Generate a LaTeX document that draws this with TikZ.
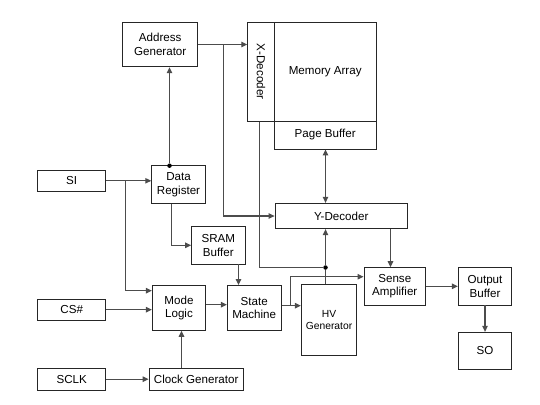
\documentclass[tikz,border=0pt]{standalone}
\usepackage{fontspec}
\setmainfont{Liberation Sans}
\usetikzlibrary{arrows.meta}
\begin{document}
\begin{tikzpicture}[x=1pt,y=-1pt,
  box/.style={draw=black!85,line width=0.9pt,inner sep=0pt,align=center,font=\fontsize{11.6}{13.5}\selectfont},
  conn/.style={draw=black!70,line width=1.1pt},
  arr/.style={conn,-{Triangle[length=6pt,width=5.5pt]}},
  darr/.style={conn,{Triangle[length=6pt,width=5.5pt]}-{Triangle[length=6pt,width=5.5pt]}},
  dot/.style={circle,fill=black,inner sep=0pt,minimum size=4.5pt}]
\useasboundingbox (0,0) rectangle (540,404);
\node[box,minimum width=75pt,minimum height=44.5pt] (addr) at (160.2,44.5) {Address\\Generator};
\node[box,minimum width=26.6pt,minimum height=98.7pt] (xdec) at (261,71.7) {};
\node[font=\fontsize{11.6}{13.5}\selectfont,rotate=-90] at (xdec) {X-Decoder};
\node[box,minimum width=102pt,minimum height=98.7pt] (mem) at (325.2,71.7) {Memory Array};
\node[box,minimum width=102pt,minimum height=28pt] (page) at (325.2,135) {Page Buffer};
\node[box,minimum width=68pt,minimum height=21.7pt] (si) at (71.7,180.8) {SI};
\node[box,minimum width=53.6pt,minimum height=37.6pt] (datareg) at (178.5,184.5) {Data\\Register};
\node[box,minimum width=132.3pt,minimum height=25.4pt] (ydec) at (341.2,216) {Y-Decoder};
\node[box,minimum width=53.3pt,minimum height=37.3pt] (sram) at (218.3,245.3) {SRAM\\Buffer};
\node[box,minimum width=61.7pt,minimum height=37.3pt] (sense) at (394.8,286.3) {Sense\\Amplifier};
\node[box,minimum width=53.4pt,minimum height=37.3pt] (outbuf) at (485,286.3) {Output\\Buffer};
\node[box,minimum width=53.4pt,minimum height=44.6pt] (mode) at (179,308) {Mode\\Logic};
\node[box,minimum width=53.7pt,minimum height=44.6pt] (state) at (254.2,307.8) {State\\Machine};
\node[box,minimum width=55.4pt,minimum height=71.7pt,font=\fontsize{10.3}{12.5}\selectfont] (hv) at (329,319.8) {HV\\Generator};
\node[box,minimum width=68pt,minimum height=21.3pt] (cs) at (71.7,309.7) {CS\#};
\node[box,minimum width=53.4pt,minimum height=37pt] (so) at (485,350.8) {SO};
\node[box,minimum width=68pt,minimum height=21.7pt] (sclk) at (71.7,379.2) {SCLK};
\node[box,minimum width=94.3pt,minimum height=21.7pt] (clock) at (196.2,379.2) {Clock Generator};
% junctions
\coordinate (j1) at (223.5,44.5);
\coordinate (j2) at (125.5,180.8);
\coordinate (j3) at (290.5,305.7);
\node[dot] (ddr) at (169.5,165.7) {};
\node[dot] (dhv) at (325.5,267.5) {};
% connectors
\draw[arr] (addr.east) -- (addr.east -| xdec.west);
\draw[arr] (j1) |- (ydec.west);
\draw[arr] (ddr) -- (ddr |- addr.south);
\draw[arr] (si.east) -- (si.east -| datareg.west);
\draw[arr] (j2) |- ([yshift=17.3pt]mode.west);
\draw[arr] ([xshift=-7pt]datareg.south) |- (sram.west);
\draw[arr] ([xshift=20.2pt]sram.south) -- ([xshift=20.2pt]sram.south |- state.north);
\draw[arr] ([yshift=3.3pt]mode.east) -- ([yshift=3.3pt]mode.east -| state.west);
\draw[arr] (cs.east) -- (cs.east -| mode.west);
\draw[arr] (sclk.east) -- (clock.west);
\draw[arr] ([xshift=-14.7pt]clock.north) -- ([xshift=-14.7pt]clock.north |- mode.south);
\draw[arr] (state.east |- j3) -- (j3 -| hv.west);
\draw[arr] (j3) |- ([yshift=9.6pt]sense.west);
\draw[conn] (dhv |- hv.north) -- (dhv);
\draw[arr] (dhv) -- (dhv |- ydec.south);
\draw[conn] ([xshift=-1.5pt]xdec.south) |- (dhv);
\draw[darr] (dhv |- page.south) -- (dhv |- ydec.north);
\draw[arr] ([xshift=49.3pt]ydec.south) -- ([xshift=49.3pt]ydec.south |- sense.north);
\draw[arr] (sense.east) -- (outbuf.west);
\draw[arr] (outbuf.south) -- (so.north);
\end{tikzpicture}
\end{document}
